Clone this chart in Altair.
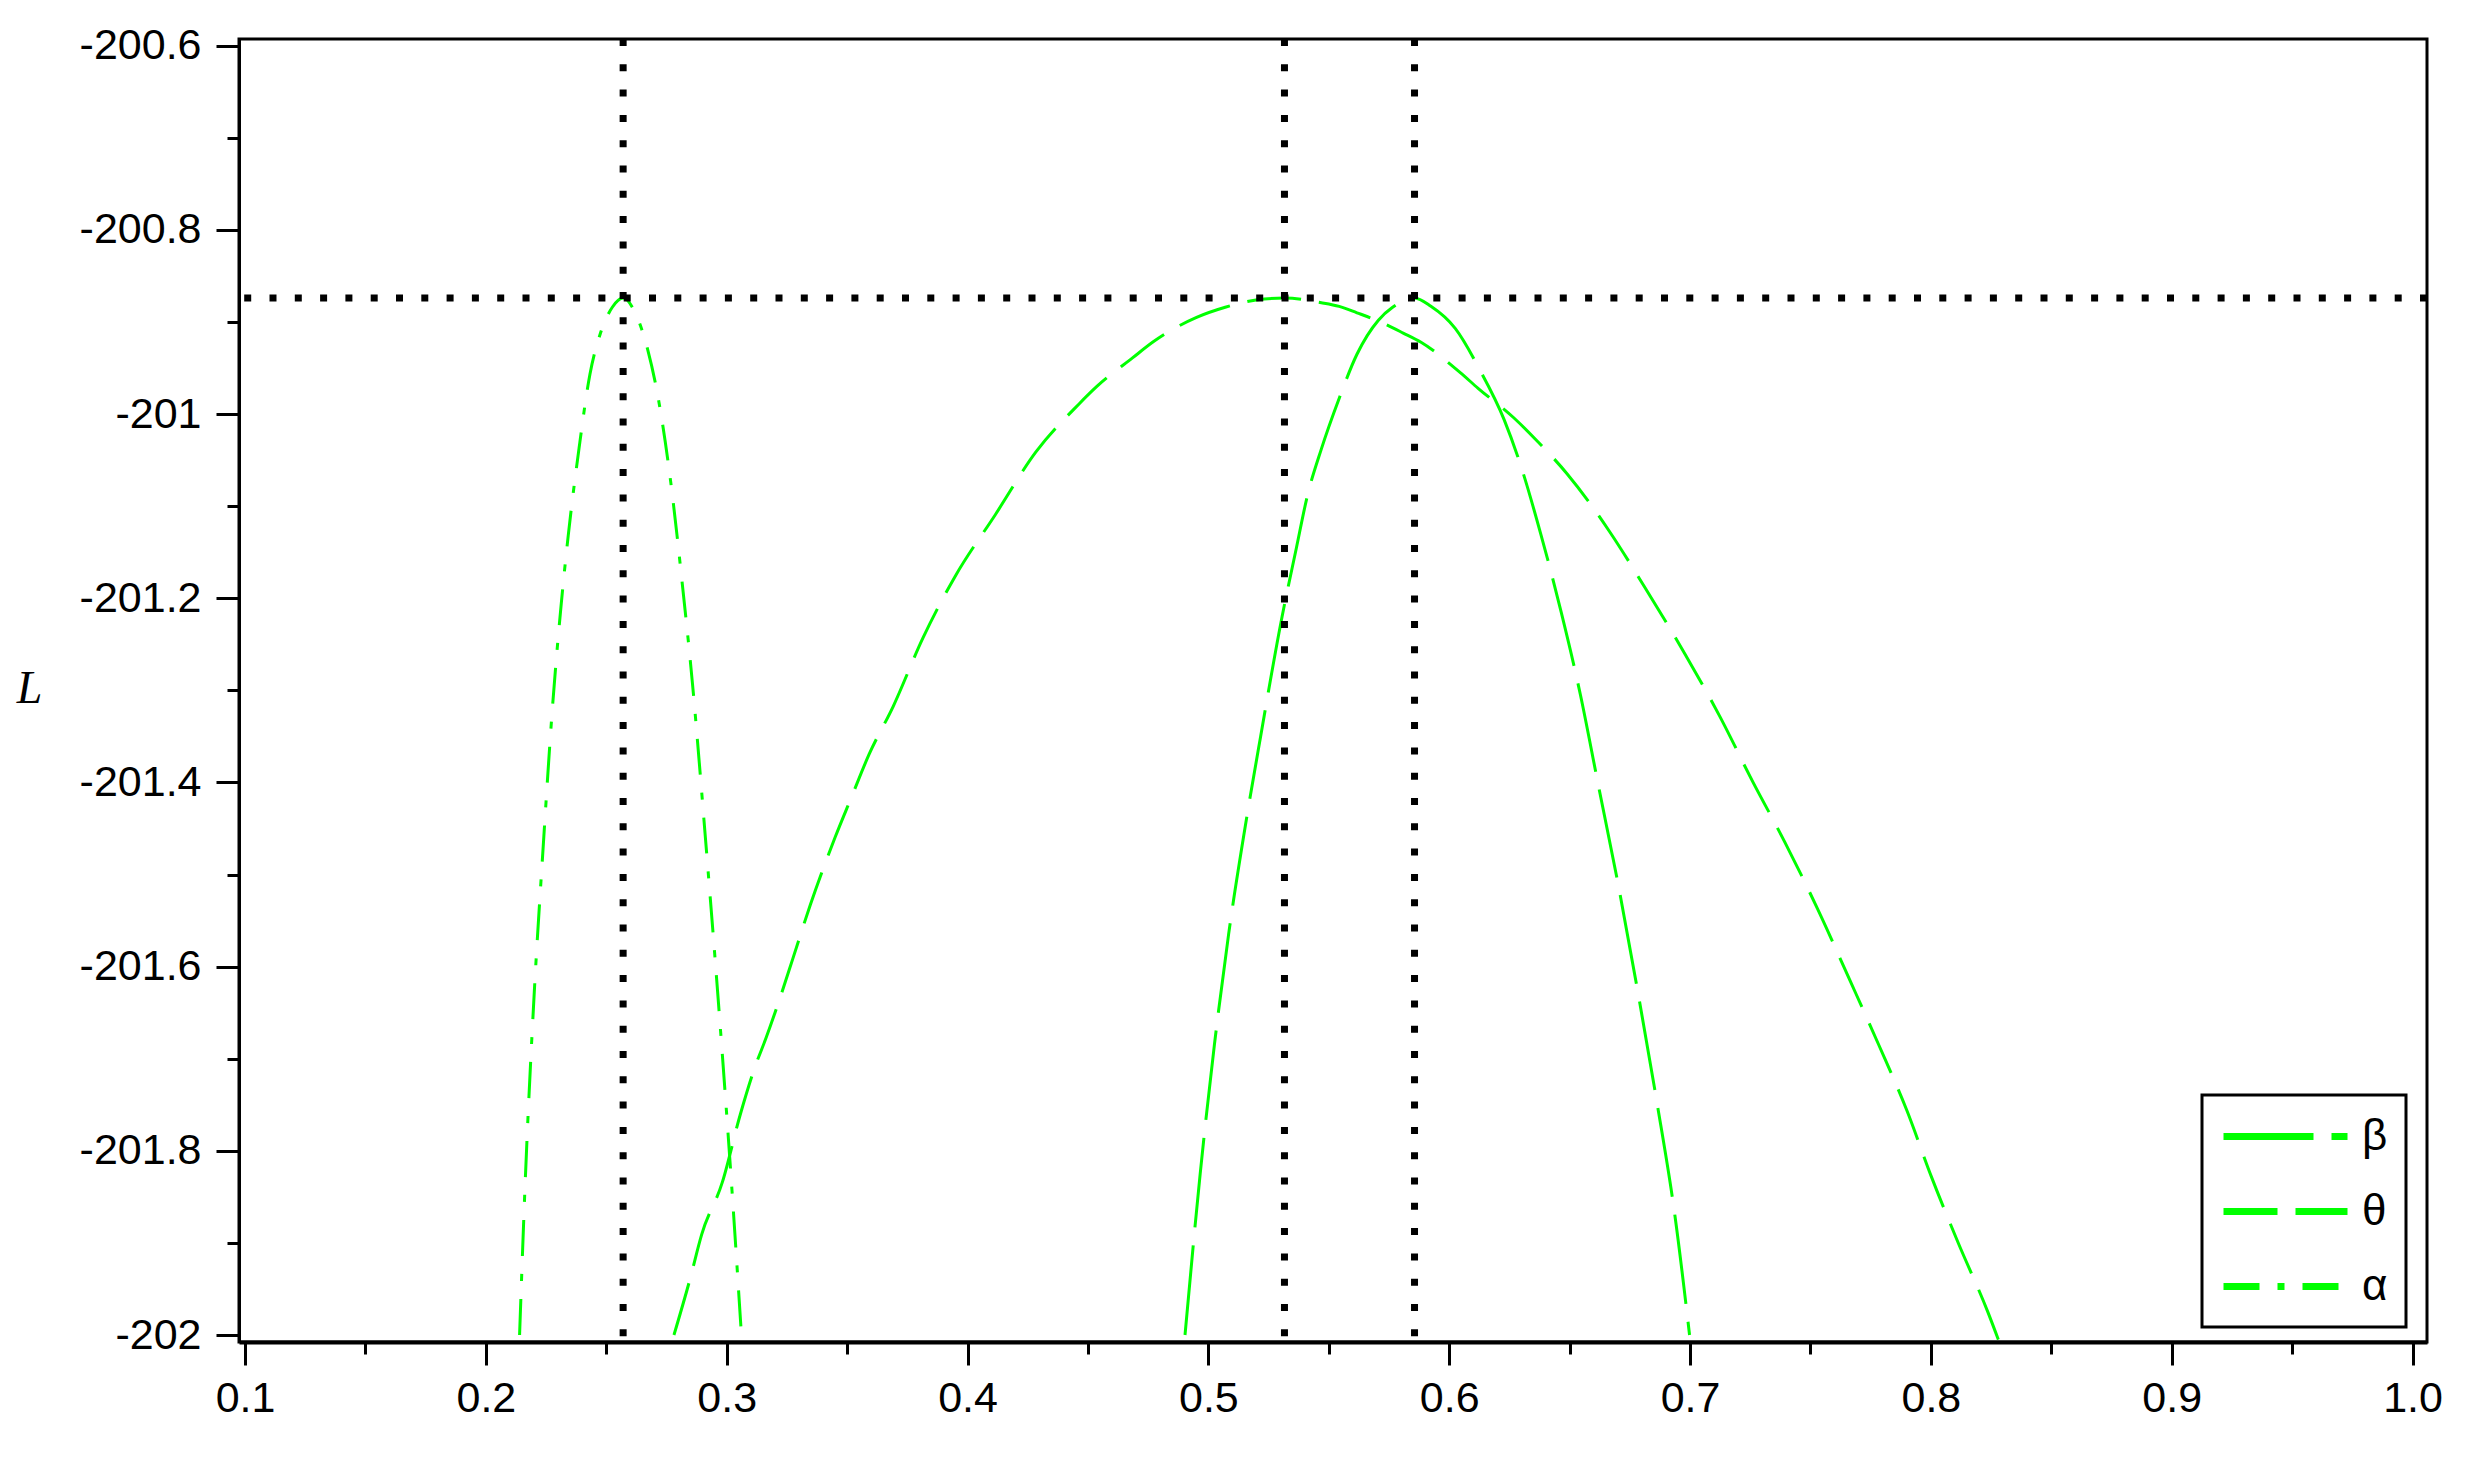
import altair as alt
import pandas as pd

# ---- data ----
params = ["β", "θ", "α"]

alpha_x = [0.2140, 0.2164, 0.2201, 0.2238, 0.2275, 0.2313, 0.2342, 0.2387, 0.2432, 0.2476,
           0.2525, 0.2570, 0.2620, 0.2672, 0.2716, 0.2773, 0.2813, 0.2858, 0.2910, 0.2966,
           0.3022, 0.3060]
alpha_L = [-202.00, -201.830, -201.628, -201.470, -201.324, -201.206, -201.132, -201.037, -200.957, -200.912,
           -200.884, -200.874, -200.890, -200.930, -200.983, -201.085, -201.178, -201.293, -201.455, -201.640,
           -201.843, -201.995]

theta_x = [0.2781, 0.2848, 0.2896, 0.2982, 0.3057, 0.3116, 0.3164, 0.3220, 0.3275, 0.3347,
           0.3451, 0.3518, 0.3592, 0.3692, 0.3815, 0.3949, 0.4116, 0.4284, 0.4463, 0.4537,
           0.4685, 0.4774, 0.4951, 0.5070, 0.5232, 0.5316, 0.5469, 0.5543, 0.5617, 0.5706,
           0.5809, 0.5883, 0.6046, 0.6120, 0.6268, 0.6357, 0.6490, 0.6593, 0.6667, 0.6819,
           0.6980, 0.7123, 0.7258, 0.7394, 0.7529, 0.7664, 0.7782, 0.7900, 0.8002, 0.8112,
           0.8238, 0.8280]
theta_L = [-202.00, -201.939, -201.891, -201.834, -201.760, -201.710, -201.677, -201.635, -201.591, -201.533,
           -201.459, -201.416, -201.369, -201.317, -201.243, -201.176, -201.109, -201.041, -200.989, -200.970,
           -200.939, -200.921, -200.895, -200.884, -200.875, -200.874, -200.879, -200.883, -200.890, -200.899,
           -200.912, -200.922, -200.955, -200.972, -201.004, -201.027, -201.065, -201.100, -201.128, -201.191,
           -201.261, -201.328, -201.398, -201.465, -201.537, -201.615, -201.684, -201.756, -201.828, -201.899,
           -201.976, -202.005]

beta_x = [0.4903, 0.4966, 0.5025, 0.5084, 0.5158, 0.5217, 0.5306, 0.5365, 0.5410, 0.5469,
          0.5543, 0.5617, 0.5706, 0.5765, 0.5856, 0.5924, 0.6025, 0.6127, 0.6228, 0.6296,
          0.6380, 0.6465, 0.6545, 0.6617, 0.6701, 0.6785, 0.6861, 0.6937, 0.6998]
beta_L = [-202.00, -201.825, -201.685, -201.565, -201.440, -201.350, -201.220, -201.146, -201.090, -201.038,
          -200.983, -200.935, -200.898, -200.884, -200.874, -200.883, -200.907, -200.952, -201.006, -201.055,
          -201.130, -201.215, -201.305, -201.400, -201.510, -201.630, -201.745, -201.870, -202.00]

mle_x = [0.2570, 0.5316, 0.5856]
mle_L = [-200.874]

x_ticks = [0.1, 0.2, 0.3, 0.4, 0.5, 0.6, 0.7, 0.8, 0.9, 1.0]
x_minor = [0.15, 0.25, 0.35, 0.45, 0.55, 0.65, 0.75, 0.85, 0.95]
y_ticks = [-200.6, -200.8, -201.0, -201.2, -201.4, -201.6, -201.8, -202.0]
y_minor = [-200.7, -200.9, -201.1, -201.3, -201.5, -201.7, -201.9]

# ---- tables ----
rows = []
for name, xs, Ls in [("β", beta_x, beta_L), ("θ", theta_x, theta_L), ("α", alpha_x, alpha_L)]:
    rows += [{"param": name, "x": a, "L": b} for a, b in zip(xs, Ls)]
curves = pd.DataFrame(rows)
vlines = pd.DataFrame({"x": mle_x})
hlines = pd.DataFrame({"L": mle_L})

x_scale = alt.Scale(domain=[0.0975, 1.006], nice=False, zero=False)
y_scale = alt.Scale(domain=[-202.0076, -200.5927], nice=False, zero=False)

x_major_test = "abs(datum.value*10 - round(datum.value*10)) < 0.001"
y_major_test = "abs(datum.value*5 - round(datum.value*5)) < 0.001"

x_axis = alt.Axis(
    values=x_ticks + x_minor,
    labelExpr=f"{x_major_test} ? format(datum.value, '.1f') : ''",
    tickSize={"condition": {"test": x_major_test, "value": 23}, "value": 12},
    tickWidth=3, tickColor="black",
    domainWidth=4, domainColor="black",
    labelFont="Liberation Sans", labelFontSize=43, labelColor="black",
    labelPadding=12, labelOverlap=False, labelFlush=False, labelBound=False,
    grid=False, title=None,
)
y_axis = alt.Axis(
    values=y_ticks + y_minor,
    labelExpr=f"{y_major_test} ? '-' + replace(format(abs(datum.value), '.1f'), '.0', '') : ''",
    tickSize={"condition": {"test": y_major_test, "value": 23}, "value": 12},
    tickWidth=3, tickColor="black",
    domainWidth=3, domainColor="black",
    labelFont="Liberation Sans", labelFontSize=43, labelColor="black",
    labelPadding=15, labelOverlap=False, labelFlush=False, labelBound=False,
    grid=False,
    title="L", titleFont="Liberation Serif", titleFontStyle="italic", titleFontWeight="normal",
    titleFontSize=46, titleColor="black", titleAngle=0, titleAlign="center", titleBaseline="middle",
    titleX=-210, titleY=649,
)

lines = alt.Chart(curves).mark_line(strokeWidth=3, interpolate="monotone", clip=True).encode(
    x=alt.X("x:Q", scale=x_scale, axis=x_axis),
    y=alt.Y("L:Q", scale=y_scale, axis=y_axis),
    color=alt.Color("param:N", scale=alt.Scale(domain=params, range=["#00ff00"] * 3),
                    sort=params,
                    legend=alt.Legend(
                        title=None, orient="none", legendX=1963, legendY=1056,
                        symbolType="M-1,0H5.2", symbolSize=1600, symbolStrokeWidth=7,
                        rowPadding=29, padding=18,
                        labelFont="Liberation Sans", labelFontSize=44, labelColor="black",
                        labelOffset=95, strokeColor="black", fillColor="white",
                    )),
    strokeDash=alt.StrokeDash("param:N", sort=params,
                              scale=alt.Scale(domain=params,
                                              range=[[90, 18], [54, 18], [36, 18, 7, 18]])),
    detail="param:N",
    order="x:Q",
)

vrules = alt.Chart(vlines).mark_rule(color="black", strokeWidth=7, strokeDash=[7, 18.3], strokeCap="butt").encode(
    x=alt.X("x:Q", scale=x_scale, axis=x_axis),
)
hrules = alt.Chart(hlines).mark_rule(color="black", strokeWidth=7, strokeDash=[7, 18.3], strokeCap="butt").encode(
    y=alt.Y("L:Q", scale=y_scale, axis=y_axis),
)

chart = alt.layer(lines, vrules, hrules).properties(
    width=2188, height=1303,
    autosize=alt.AutoSizeParams(type="none"),
    padding={"left": 231, "top": 31, "right": 30, "bottom": 100},
    background="white",
).configure_view(stroke="black", strokeWidth=3).configure_legend(strokeWidth=3)

chart.save("out.html", embed_options={"renderer": "svg", "actions": False})
